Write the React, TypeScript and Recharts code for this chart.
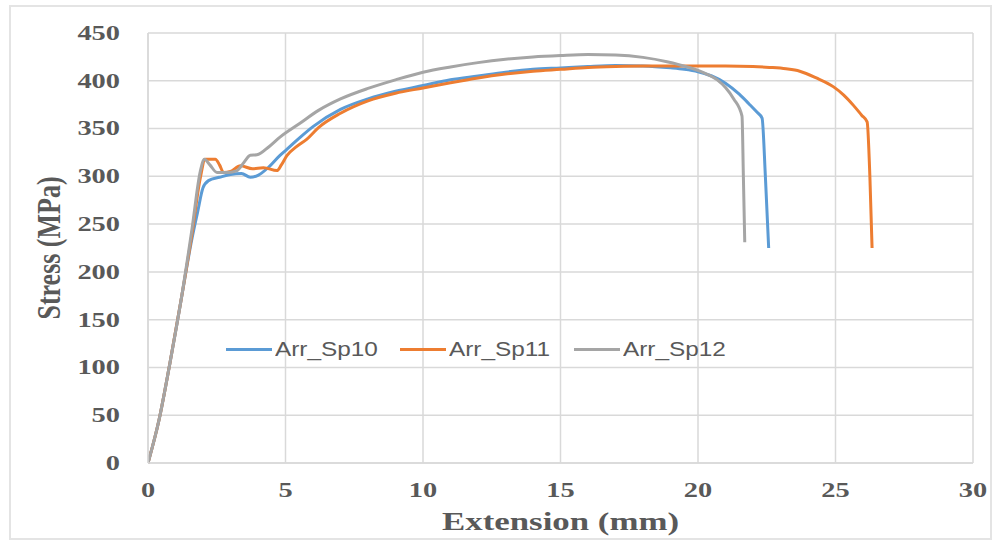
import { CartesianGrid, Label, Legend, Line, LineChart, XAxis, YAxis } from 'recharts';

// Tensile test curves (extension mm / stress MPa)
const sp10Extension = [0, 0.4, 0.8, 1.2, 1.6, 1.8, 2.0, 2.2, 2.6, 3.0, 3.4, 3.72, 4.0, 4.4, 4.8, 5.0, 5.5, 6.0, 7.0, 8.0, 9.0, 10, 11, 12, 13, 14, 15, 16, 17, 18, 19, 19.5, 20, 20.5, 21.0, 21.5, 21.85, 22.15, 22.33, 22.45, 22.57];
const sp10Stress = [0, 45, 105, 170, 235, 262, 288, 295.5, 299, 302, 303, 299, 301, 310, 322, 327, 340, 352, 370, 381, 389, 395, 401, 405, 409, 412, 413.5, 415, 416, 415.5, 413.5, 412, 409.5, 405, 397.5, 386, 376, 367, 361, 300, 225];

const sp11Extension = [0, 0.4, 0.8, 1.2, 1.6, 1.9, 2.08, 2.45, 2.6, 2.75, 3.0, 3.36, 3.8, 4.2, 4.69, 4.85, 5.05, 5.4, 5.78, 6.2, 7.0, 8.0, 9.0, 10, 11, 12, 13, 14, 15, 16, 17, 18, 19, 20, 21, 22, 22.6, 23.2, 23.7, 24.3, 24.93, 25.3, 25.66, 25.95, 26.15, 26.25, 26.33];
const sp11Stress = [0, 45, 105, 170, 240, 298, 318, 318, 312, 304, 305, 311, 308, 309, 306, 312, 321.7, 331, 339, 351, 366, 379, 387, 392.5, 398, 403, 407, 410, 412, 414, 415, 415.5, 415.5, 415.5, 415.5, 415, 414, 412.5, 410, 403, 393.6, 385, 374, 364, 357, 300, 225];

const sp12Extension = [0, 0.4, 0.8, 1.2, 1.6, 1.9, 2.05, 2.25, 2.51, 2.9, 3.24, 3.5, 3.72, 3.96, 4.4, 4.8, 5.5, 6.2, 7.0, 8.0, 9.0, 10, 11, 12, 13, 14, 15, 16, 17, 18, 18.87, 19.6, 20.2, 20.7, 21.0, 21.3, 21.6, 21.65, 21.7];
const sp12Stress = [0, 45, 105, 170, 245, 305, 318, 312, 304, 304, 306, 315, 322, 322.5, 331, 341, 355, 369, 381, 392, 401, 409, 414.5, 419, 422.5, 425, 426.5, 427.5, 427, 424.5, 420, 414.6, 408.5, 401, 393, 381, 363, 300, 231];

const seriesNames = ['Arr_Sp10', 'Arr_Sp11', 'Arr_Sp12'];
const seriesColors = ['#5b9bd5', '#ed7d31', '#a5a5a5'];

const xTicks = [0, 5, 10, 15, 20, 25, 30];
const yTicks = [0, 50, 100, 150, 200, 250, 300, 350, 400, 450];

const toPoints = (xs: number[], ys: number[]) => xs.map((x, i) => ({ x, y: ys[i] }));

const series = [
  toPoints(sp10Extension, sp10Stress),
  toPoints(sp11Extension, sp11Stress),
  toPoints(sp12Extension, sp12Stress),
];

const textGrey = '#595959';
const gridGrey = '#d9d9d9';
const serif = '"Liberation Serif", "Times New Roman", serif';
// the source picture is stretched sideways, so glyphs are widened to match
const stretch = 1.42;

function YTick({ x, y, payload }: any) {
  return (
    <text
      transform={`translate(${x - 28},${y}) scale(${stretch},1)`}
      textAnchor="end"
      dominantBaseline="central"
      fontFamily={serif}
      fontWeight="bold"
      fontSize={20}
      fill={textGrey}
    >
      {payload.value}
    </text>
  );
}

function XTick({ x, y, payload }: any) {
  return (
    <text
      transform={`translate(${x},${y + 27}) scale(${stretch},1)`}
      textAnchor="middle"
      dominantBaseline="central"
      fontFamily={serif}
      fontWeight="bold"
      fontSize={20}
      fill={textGrey}
    >
      {payload.value}
    </text>
  );
}

function XTitle({ viewBox }: any) {
  const cx = viewBox.x + viewBox.width / 2;
  return (
    <text
      transform={`translate(${cx},${viewBox.y + 59}) scale(1.34,1)`}
      textAnchor="middle"
      dominantBaseline="central"
      fontFamily={serif}
      fontWeight="bold"
      fontSize={26}
      fill={textGrey}
    >
      Extension (mm)
    </text>
  );
}

function YTitle({ viewBox }: any) {
  const cy = viewBox.y + viewBox.height / 2;
  return (
    <text
      transform={`translate(49,${cy}) scale(1.3,1) rotate(-90)`}
      textAnchor="middle"
      dominantBaseline="central"
      fontFamily={serif}
      fontWeight="bold"
      fontSize={26}
      fill={textGrey}
    >
      Stress (MPa)
    </text>
  );
}

function LegendRow() {
  return (
    <div style={{ display: 'flex', alignItems: 'center' }}>
      {seriesNames.map((name, i) => (
        <div key={name} style={{ display: 'flex', alignItems: 'center', marginRight: i < 2 ? 22 : 0 }}>
          <div style={{ width: 46, height: 3, background: seriesColors[i], marginRight: 3 }} />
          <div style={{ width: 103, height: 24, overflow: 'visible' }}>
            <span
              style={{
                display: 'inline-block',
                fontFamily: '"Liberation Sans", Arial, sans-serif',
                fontSize: 21,
                lineHeight: '24px',
                color: textGrey,
                transform: 'scaleX(1.16)',
                transformOrigin: 'left center',
                whiteSpace: 'nowrap',
              }}
            >
              {name}
            </span>
          </div>
        </div>
      ))}
    </div>
  );
}

export default function App() {
  return (
    <div style={{ position: 'absolute', left: 0, top: 0, width: 996, height: 543, background: '#fff' }}>
      <div
        style={{
          position: 'absolute',
          left: 9,
          top: 5,
          width: 979,
          height: 531,
          border: '2px solid #e4e4e4',
        }}
      />
      <LineChart width={996} height={543} margin={{ top: 33, right: 23, bottom: 0, left: 0 }}>
        <CartesianGrid stroke={gridGrey} strokeWidth={1.5} />
        <XAxis
          type="number"
          dataKey="x"
          domain={[0, 30]}
          ticks={xTicks}
          height={80}
          tickSize={0}
          tickMargin={0}
          tickLine={false}
          axisLine={{ stroke: gridGrey, strokeWidth: 1.5 }}
          tick={<XTick />}
          allowDataOverflow
        >
          <Label content={<XTitle />} />
        </XAxis>
        <YAxis
          type="number"
          domain={[0, 450]}
          ticks={yTicks}
          width={148}
          tickSize={0}
          tickMargin={0}
          tickLine={false}
          axisLine={{ stroke: gridGrey, strokeWidth: 1.5 }}
          tick={<YTick />}
        >
          <Label content={<YTitle />} />
        </YAxis>
        <Legend
          layout="horizontal"
          align="center"
          verticalAlign="middle"
          content={<LegendRow />}
          wrapperStyle={{ top: 337, left: 226, width: 'auto', bottom: 'auto' }}
        />
        {series.map((pts, i) => (
          <Line
            key={seriesNames[i]}
            name={seriesNames[i]}
            data={pts}
            dataKey="y"
            type="monotone"
            stroke={seriesColors[i]}
            strokeWidth={3}
            dot={false}
            activeDot={false}
            isAnimationActive={false}
          />
        ))}
      </LineChart>
    </div>
  );
}
